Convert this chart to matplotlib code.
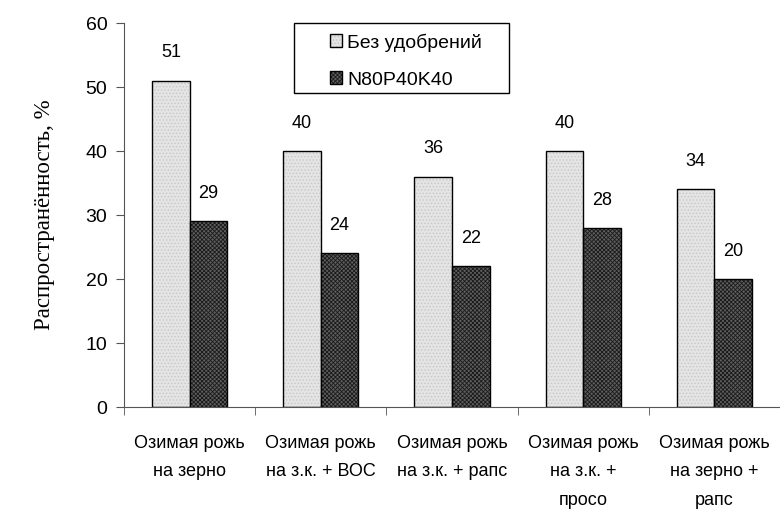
import numpy as np
import matplotlib
matplotlib.use('Agg')
import matplotlib.pyplot as plt
from matplotlib.patches import Rectangle

plt.rcParams['font.family'] = ['Liberation Sans', 'DejaVu Sans']
plt.rcParams['hatch.linewidth'] = 0.6

# data
categories = ['Озимая рожь\nна зерно', 'Озимая рожь\nна з.к. + ВОС', 'Озимая рожь\nна з.к. + рапс',
              'Озимая рожь\nна з.к. +\nпросо', 'Озимая рожь\nна зерно +\nрапс']
no_fert = [51, 40, 36, 40, 34]
npk = [29, 24, 22, 28, 20]
series_names = ['Без удобрений', 'N80P40K40']

fig = plt.figure(figsize=(7.8, 5.15), dpi=100)
ax = fig.add_axes([0.159, 0.2097, 0.841, 0.7456])

x = np.arange(len(categories))
w = 0.286
b1 = ax.bar(x - w / 2, no_fert, w, facecolor='#e4e4e4', edgecolor='black', linewidth=1.0,
            hatch='.....', label=series_names[0])
b2 = ax.bar(x + w / 2, npk, w, facecolor='#5e5e5e', edgecolor='black', linewidth=1.0,
            hatch='xxxxxxxx', label=series_names[1])
for bar in b1:
    bar._hatch_color = (0.78, 0.78, 0.78, 1)
for bar in b2:
    bar._hatch_color = (0.1, 0.1, 0.1, 1)

for bars, vals in ((b1, no_fert), (b2, npk)):
    for bar, v in zip(bars, vals):
        ax.annotate(str(v), (bar.get_x() + bar.get_width() / 2, v), xytext=(0, 20),
                    textcoords='offset points', ha='center', va='center', fontsize=13)

ax.set_xlim(-0.5, 4.5)
ax.set_ylim(0, 60)
ax.set_yticks(range(0, 61, 10))
ax.set_xticks(x)
ax.set_xticklabels(categories, fontsize=13, linespacing=1.9, va='top')
ax.set_xticks(np.arange(-0.5, 5, 1), minor=True)
ax.tick_params(axis='x', which='major', length=0, pad=20)
ax.tick_params(axis='x', which='minor', length=6, direction='out', color='#555555')
ax.tick_params(axis='y', length=6, direction='out', labelsize=14, color='#555555', pad=6)

for s in ('top', 'right'):
    ax.spines[s].set_visible(False)
ax.spines['left'].set_color('#555555')
ax.spines['bottom'].set_color('#555555')

ax.set_ylabel('Распространённость, %', family=['Liberation Serif'], fontsize=16.5, labelpad=22)

# legend with a wide frame like the original
leg = fig.legend(handles=[b1, b2], labels=series_names, loc='center',
                 bbox_to_anchor=(0.5205, 0.8816), fontsize=14, frameon=False,
                 handlelength=0.65, handleheight=0.65, handletextpad=0.25,
                 labelspacing=1.0)
fig.add_artist(Rectangle((0.377, 0.8194), 0.2756, 0.1359, transform=fig.transFigure,
                         facecolor='none', edgecolor='black', linewidth=1.0))

fig.savefig('out.png', dpi=100)
